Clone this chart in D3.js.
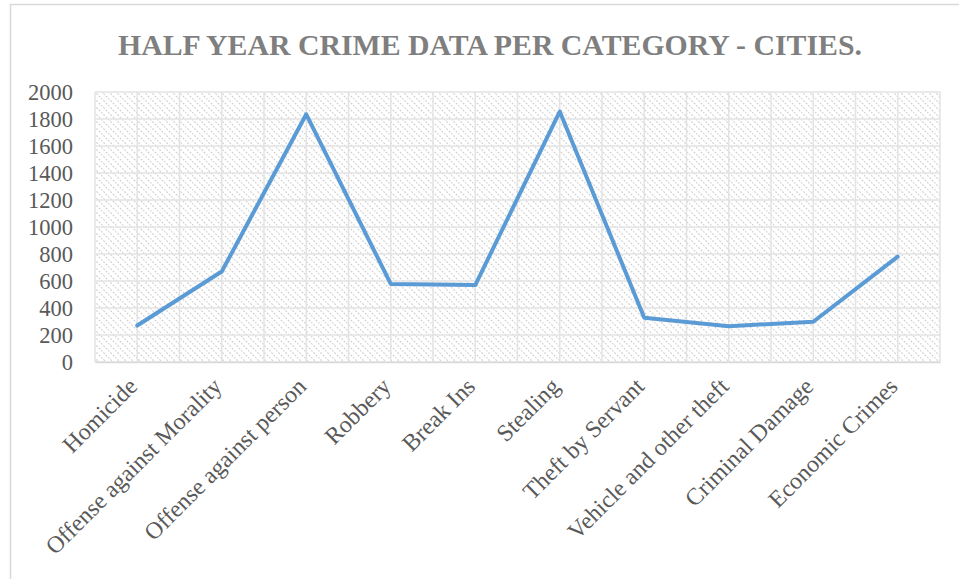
<!DOCTYPE html>
<html>
<head>
<meta charset="utf-8">
<script src="https://cdn.jsdelivr.net/npm/d3@7"></script>
<style>
  body { margin: 0; background: #fff; }
  svg { display: block; font-family: "Liberation Serif", "Times New Roman", serif; }
</style>
</head>
<body>
<div id="chart"></div>
<script>
const categories = [
  "Homicide", "Offense against Morality", "Offense against person", "Robbery",
  "Break Ins", "Stealing", "Theft by Servant", "Vehicle and other theft",
  "Criminal Damage", "Economic Crimes"
];
const crimeCounts = [270, 670, 1835, 578, 570, 1855, 328, 265, 298, 780];
const yTicks = [0, 200, 400, 600, 800, 1000, 1200, 1400, 1600, 1800, 2000];
const chartTitle = "HALF YEAR CRIME DATA PER CATEGORY - CITIES.";

const width = 959, height = 579;
const margin = { top: 92, right: 19, bottom: 217, left: 95 };
const innerW = width - margin.left - margin.right;
const innerH = height - margin.top - margin.bottom;

const svg = d3.select("#chart").append("svg")
  .attr("width", width)
  .attr("height", height);

// outer chart border
svg.append("rect")
  .attr("x", 10.5).attr("y", 4.5)
  .attr("width", 960).attr("height", 600)
  .attr("fill", "#fff")
  .attr("stroke", "#d9d9d9")
  .attr("stroke-width", 1.5);

// hatch fill for plot area (dashed diagonals)
const defs = svg.append("defs");
const pat = defs.append("pattern")
  .attr("id", "hatch")
  .attr("patternUnits", "userSpaceOnUse")
  .attr("width", 7).attr("height", 7);
pat.append("rect").attr("width", 7).attr("height", 7).attr("fill", "#fff");
pat.append("path")
  .attr("d", "M-1,-1 L8,8 M-1,6 L1,8 M6,-1 L8,1")
  .attr("stroke", "#d2d2d2")
  .attr("stroke-width", 1.2)
  .attr("stroke-dasharray", "2,1.4");

svg.append("text")
  .attr("x", 490)
  .attr("y", 55)
  .attr("text-anchor", "middle")
  .attr("fill", "#7f7f7f")
  .attr("font-weight", "bold")
  .attr("font-size", 29.8)
  .text(chartTitle);

const g = svg.append("g")
  .attr("transform", `translate(${margin.left},${margin.top})`);

const xScale = d3.scalePoint()
  .domain(categories)
  .range([0, innerW])
  .padding(0.5);

const yScale = d3.scaleLinear()
  .domain([0, 2000])
  .range([innerH, 0]);

g.append("rect")
  .attr("width", innerW)
  .attr("height", innerH)
  .attr("fill", "url(#hatch)");

// horizontal gridlines
g.append("g")
  .selectAll("line")
  .data(yTicks)
  .join("line")
  .attr("x1", 0).attr("x2", innerW)
  .attr("y1", d => yScale(d)).attr("y2", d => yScale(d))
  .attr("stroke", "#e3e3e3")
  .attr("stroke-width", 1.5);

// vertical gridlines: category centres and boundaries
const step = xScale.step();
const vLines = d3.range(0, categories.length * 2 + 1).map(i => i * step / 2);
g.append("g")
  .selectAll("line")
  .data(vLines)
  .join("line")
  .attr("x1", d => d).attr("x2", d => d)
  .attr("y1", 0).attr("y2", innerH)
  .attr("stroke", "#e3e3e3")
  .attr("stroke-width", 1.5);

// y axis labels
const yAxis = d3.axisLeft(yScale)
  .tickValues(yTicks)
  .tickFormat(d3.format("d"))
  .tickSize(0)
  .tickPadding(22);
g.append("g")
  .call(yAxis)
  .attr("font-family", null)
  .attr("font-size", null)
  .call(s => s.select(".domain").remove())
  .call(s => s.selectAll("text")
    .attr("fill", "#595959")
    .style("font-size", "22.5px")
    .style("font-family", "'Liberation Serif', serif"));

// x axis labels
const xAxis = d3.axisBottom(xScale).tickSize(0).tickPadding(0);
g.append("g")
  .attr("transform", `translate(0,${innerH})`)
  .call(xAxis)
  .attr("font-family", null)
  .attr("font-size", null)
  .call(s => s.select(".domain")
    .attr("stroke", "#d9d9d9")
    .attr("stroke-width", 1.5))
  .call(s => s.selectAll("text")
    .attr("fill", "#595959")
    .style("font-size", "23.8px")
    .style("font-family", "'Liberation Serif', serif")
    .attr("text-anchor", "end")
    .attr("y", 0)
    .attr("dy", "0.35em")
    .attr("transform", "translate(-5,20) rotate(-45)"));

const line = d3.line()
  .x((d, i) => xScale(categories[i]))
  .y(d => yScale(d));

g.append("path")
  .datum(crimeCounts)
  .attr("fill", "none")
  .attr("stroke", "#5b9bd5")
  .attr("stroke-width", 4)
  .attr("stroke-linejoin", "round")
  .attr("stroke-linecap", "round")
  .attr("d", line);
</script>
</body>
</html>
